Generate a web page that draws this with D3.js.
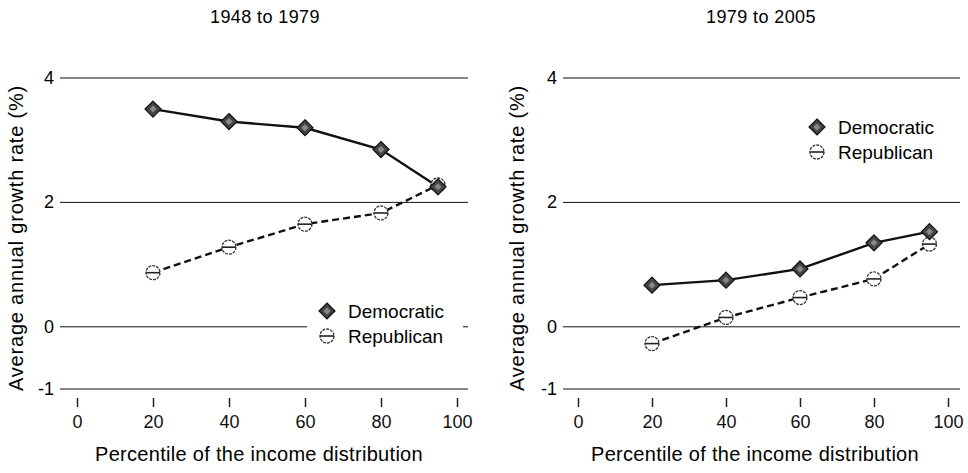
<!DOCTYPE html>
<html>
<head>
<meta charset="utf-8">
<script src="https://cdn.jsdelivr.net/npm/d3@7"></script>
<style>
  body { margin: 0; background: #fff; }
  svg { display: block; font-family: "Liberation Sans", Arial, sans-serif; }
</style>
</head>
<body>
<svg id="chart" width="968" height="473"></svg>
<script>
// percentiles on the x axis
const percentiles = [20, 40, 60, 80, 95];
const xTicks = [0, 20, 40, 60, 80, 100];
const yTicks = [-1, 0, 2, 4];

// 1948 to 1979
const dem1948 = [3.5, 3.3, 3.2, 2.85, 2.25];
const rep1948 = [0.87, 1.28, 1.65, 1.83, 2.28];
// 1979 to 2005
const dem1979 = [0.67, 0.75, 0.93, 1.35, 1.53];
const rep1979 = [-0.27, 0.15, 0.47, 0.77, 1.33];

const titles = ['1948 to 1979', '1979 to 2005'];
const seriesNames = ['Democratic', 'Republican'];

const svg = d3.select('#chart');

const panels = [
    {title: titles[0], dem: dem1948, rep: rep1948, x0: 77, x1: 457, gx0: 60, gx1: 468, yLab: 23, legend: [327, 311]},
    {title: titles[1], dem: dem1979, rep: rep1979, x0: 578, x1: 948, gx0: 563, gx1: 960, yLab: 524, legend: [817, 127]},
];

const y = d3.scaleLinear().domain([-1, 4]).range([389, 78]);

function diamond(g, cx, cy) {
    g.append('path')
        .attr('d', `M${cx},${cy - 8}L${cx + 8},${cy}L${cx},${cy + 8}L${cx - 8},${cy}Z`)
        .attr('fill', '#444').attr('stroke', '#111').attr('stroke-width', 1.2);
    g.append('path')
        .attr('d', `M${cx},${cy - 3.5}L${cx + 3.5},${cy}L${cx},${cy + 3.5}L${cx - 3.5},${cy}Z`)
        .attr('fill', '#888');
}

function ring(g, cx, cy) {
    g.append('circle').attr('cx', cx).attr('cy', cy).attr('r', 7)
        .attr('fill', '#fff').attr('stroke', '#333').attr('stroke-width', 1.3)
        .attr('stroke-dasharray', '3,1');
    g.append('line').attr('x1', cx - 7).attr('x2', cx + 7).attr('y1', cy).attr('y2', cy)
        .attr('stroke', '#222').attr('stroke-width', 1.6);
}

panels.forEach((p) => {
    const x = d3.scaleLinear().domain([0, 100]).range([p.x0, p.x1]);
    const g = svg.append('g');
    const midX = (p.x0 + p.x1) / 2;

    g.append('text').attr('x', midX - 2).attr('y', 23).attr('text-anchor', 'middle')
        .attr('font-size', 18).attr('letter-spacing', 0.4).text(p.title);

    // horizontal gridlines
    g.selectAll('.grid').data(yTicks).enter().append('line')
        .attr('x1', p.gx0).attr('x2', p.gx1)
        .attr('y1', d => y(d)).attr('y2', d => y(d))
        .attr('stroke', '#111').attr('stroke-width', 1);

    g.selectAll('.ylab').data(yTicks).enter().append('text')
        .attr('x', p.gx0 - 6).attr('y', d => y(d) + 6).attr('text-anchor', 'end')
        .attr('font-size', 18).text(d => d);

    // x axis ticks below the -1 line
    const xAxis = d3.axisBottom(x).tickValues(xTicks).tickSize(9).tickPadding(8);
    const ax = g.append('g').attr('transform', 'translate(0,398)').call(xAxis);
    ax.select('.domain').remove();
    ax.selectAll('line').attr('stroke', '#222').attr('stroke-width', 1.5);
    ax.selectAll('text').attr('font-size', 18).attr('fill', '#111')
        .attr('font-family', '"Liberation Sans", Arial, sans-serif');

    g.append('text').attr('x', midX - 8).attr('y', 461).attr('text-anchor', 'middle')
        .attr('font-size', 20).attr('letter-spacing', 0.3)
        .text('Percentile of the income distribution');

    g.append('text').attr('transform', `translate(${p.yLab},238) rotate(-90)`)
        .attr('text-anchor', 'middle').attr('font-size', 20).attr('letter-spacing', 0.8)
        .text('Average annual growth rate (%)');

    const line = d3.line().x(d => x(d[0])).y(d => y(d[1]));
    const demPts = percentiles.map((v, i) => [v, p.dem[i]]);
    const repPts = percentiles.map((v, i) => [v, p.rep[i]]);

    // legend box (white background covers gridline)
    const [lx, ly] = p.legend;
    g.append('rect').attr('x', lx - 20).attr('y', ly - 12).attr('width', 156).attr('height', 48)
        .attr('fill', '#fff');

    g.append('path').datum(repPts).attr('d', line).attr('fill', 'none')
        .attr('stroke', '#111').attr('stroke-width', 2.4).attr('stroke-dasharray', '7,4');
    g.append('path').datum(demPts).attr('d', line).attr('fill', 'none')
        .attr('stroke', '#111').attr('stroke-width', 2.4);

    repPts.forEach(d => ring(g, x(d[0]), y(d[1])));
    demPts.forEach(d => diamond(g, x(d[0]), y(d[1])));

    diamond(g, lx, ly);
    ring(g, lx, ly + 25);
    g.append('text').attr('x', lx + 21).attr('y', ly + 7).attr('font-size', 19).text(seriesNames[0]);
    g.append('text').attr('x', lx + 21).attr('y', ly + 32).attr('font-size', 19).text(seriesNames[1]);
});
</script>
</body>
</html>
